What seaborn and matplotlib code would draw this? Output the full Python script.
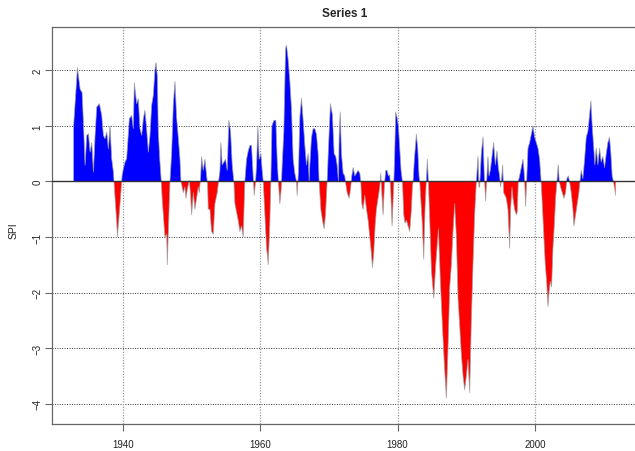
import numpy as np
import matplotlib
matplotlib.use("Agg")
import matplotlib.pyplot as plt
import seaborn as sns

# SPI values (decimal year, index value)
years = [
    1932.80, 1933.36, 1933.75, 1934.04, 1934.23, 1934.47, 1934.72, 1934.96, 1935.20, 1935.44,
    1935.69, 1935.93, 1936.17, 1936.56, 1936.90, 1937.14, 1937.38, 1937.63, 1937.87, 1938.11,
    1938.35, 1938.60, 1938.84, 1939.08, 1939.18, 1939.47, 1939.66, 1939.86, 1940.05, 1940.29,
    1940.53, 1940.92, 1941.26, 1941.50, 1941.65, 1941.99, 1942.23, 1942.47, 1942.72, 1942.96,
    1943.20, 1943.44, 1943.69, 1943.93, 1944.17, 1944.41, 1944.66, 1944.80, 1945.00, 1945.14,
    1945.38, 1945.55, 1945.70, 1945.87, 1946.11, 1946.36, 1946.45, 1946.60, 1946.84, 1947.08,
    1947.33, 1947.57, 1947.81, 1948.05, 1948.30, 1948.44, 1948.54, 1948.78, 1949.02, 1949.17,
    1949.36, 1949.65, 1949.85, 1950.00, 1950.24, 1950.48, 1950.72, 1950.96, 1951.10, 1951.30,
    1951.45, 1951.69, 1951.93, 1952.18, 1952.32, 1952.42, 1952.66, 1952.90, 1953.15, 1953.39,
    1953.73, 1953.92, 1954.12, 1954.26, 1954.45, 1954.70, 1954.94, 1955.18, 1955.42, 1955.67,
    1955.91, 1956.15, 1956.30, 1956.54, 1956.78, 1957.03, 1957.27, 1957.51, 1957.75, 1958.00,
    1958.24, 1958.48, 1958.72, 1958.96, 1959.12, 1959.31, 1959.46, 1959.65, 1959.84, 1960.09,
    1960.28, 1960.43, 1960.67, 1960.91, 1961.06, 1961.15, 1961.40, 1961.54, 1961.69, 1961.98,
    1962.27, 1962.46, 1962.66, 1962.85, 1963.04, 1963.19, 1963.43, 1963.68, 1963.82, 1964.06,
    1964.31, 1964.55, 1964.79, 1965.03, 1965.28, 1965.37, 1965.57, 1965.76, 1966.00, 1966.25,
    1966.49, 1966.73, 1966.97, 1967.12, 1967.22, 1967.46, 1967.70, 1967.94, 1968.19, 1968.43,
    1968.57, 1968.82, 1969.06, 1969.30, 1969.50, 1969.74, 1969.93, 1970.22, 1970.51, 1970.76,
    1971.00, 1971.19, 1971.39, 1971.49, 1971.64, 1971.83, 1972.07, 1972.31, 1972.46, 1972.65,
    1972.94, 1973.14, 1973.33, 1973.53, 1973.77, 1974.01, 1974.25, 1974.50, 1974.64, 1974.79,
    1974.98, 1975.23, 1975.47, 1975.71, 1975.95, 1976.19, 1976.34, 1976.53, 1976.73, 1976.92,
    1977.16, 1977.41, 1977.55, 1977.70, 1977.89, 1978.09, 1978.28, 1978.47, 1978.67, 1978.86,
    1979.01, 1979.20, 1979.40, 1979.54, 1979.73, 1979.93, 1980.12, 1980.32, 1980.51, 1980.71,
    1980.90, 1981.09, 1981.29, 1981.53, 1981.77, 1982.02, 1982.16, 1982.26, 1982.45, 1982.74,
    1982.94, 1983.13, 1983.23, 1983.42, 1983.62, 1983.81, 1984.00, 1984.20, 1984.34, 1984.49,
    1984.69, 1984.93, 1985.27, 1985.56, 1985.95, 1986.24, 1986.53, 1986.82, 1987.11, 1987.35,
    1987.60, 1987.84, 1988.08, 1988.32, 1988.57, 1988.81, 1989.05, 1989.29, 1989.54, 1989.78,
    1990.02, 1990.26, 1990.51, 1990.75, 1990.99, 1991.23, 1991.48, 1991.62, 1991.72, 1991.86,
    1991.96, 1992.20, 1992.45, 1992.64, 1992.83, 1992.98, 1993.17, 1993.32, 1993.51, 1993.71,
    1994.00, 1994.24, 1994.49, 1994.68, 1994.87, 1995.02, 1995.16, 1995.31, 1995.46, 1995.65,
    1995.84, 1996.08, 1996.33, 1996.47, 1996.67, 1996.81, 1997.05, 1997.30, 1997.44, 1997.59,
    1997.78, 1998.02, 1998.27, 1998.42, 1998.52, 1998.66, 1998.81, 1999.00, 1999.24, 1999.48,
    1999.73, 1999.97, 2000.21, 2000.46, 2000.70, 2000.89, 2001.04, 2001.28, 2001.52, 2001.72,
    2001.91, 2002.06, 2002.25, 2002.44, 2002.64, 2002.83, 2003.03, 2003.22, 2003.41, 2003.56,
    2003.75, 2003.99, 2004.24, 2004.48, 2004.67, 2004.87, 2005.06, 2005.30, 2005.55, 2005.69,
    2005.94, 2006.18, 2006.42, 2006.57, 2006.76, 2007.00, 2007.25, 2007.49, 2007.73, 2007.97,
    2008.17, 2008.36, 2008.56, 2008.75, 2008.94, 2009.19, 2009.43, 2009.67, 2009.91, 2010.16,
    2010.40, 2010.64, 2010.88, 2011.08, 2011.27, 2011.46, 2011.66, 2011.76,
]
spi_values = [
    1.00, 2.05, 1.66, 1.60, 1.07, 0.29, 0.83, 0.86, 0.53, 0.70,
    0.17, 0.83, 1.34, 1.40, 1.19, 0.83, 0.77, 0.89, 0.59, 1.00,
    0.41, 0.17, -0.30, -0.73, -1.00, -0.55, -0.25, 0.10, 0.23, 0.35,
    0.41, 1.13, 1.19, 0.95, 1.78, 1.40, 1.49, 0.95, 0.83, 1.13,
    1.28, 0.95, 0.53, 0.83, 1.37, 1.55, 2.02, 2.14, 1.90, 0.89,
    0.35, 0.05, -0.30, -0.60, -1.00, -0.95, -1.50, -0.90, 0.00, 0.50,
    1.40, 1.80, 1.15, 0.80, 0.40, 0.00, -0.05, -0.20, -0.10, -0.30,
    -0.15, 0.02, -0.25, -0.60, -0.20, -0.50, -0.30, -0.10, -0.20, 0.05,
    0.45, 0.20, 0.40, 0.10, -0.05, -0.50, -0.50, -0.90, -0.95, -0.40,
    -0.20, 0.00, 0.20, 0.70, 0.30, 0.35, 0.40, 0.20, 1.10, 0.90,
    0.30, 0.00, -0.40, -0.55, -0.70, -0.90, -0.80, -1.00, 0.00, 0.40,
    0.55, 0.65, 0.65, 0.10, -0.25, 0.00, 0.30, 1.00, 0.40, 0.50,
    0.20, 0.00, -0.60, -1.20, -1.35, -1.50, -0.70, 0.00, 1.00, 1.10,
    1.10, 0.40, -0.05, -0.40, -0.15, 0.30, 0.90, 2.40, 2.45, 2.20,
    1.80, 1.30, 0.40, 0.15, 0.00, -0.25, 0.20, 1.15, 1.50, 1.10,
    0.65, 0.30, 0.50, 0.00, 0.30, 0.80, 0.95, 0.95, 0.85, 0.50,
    0.00, -0.50, -0.70, -0.85, -0.60, 0.00, 0.60, 1.40, 1.20, 0.50,
    0.45, 0.30, 0.00, 0.80, 1.25, 0.50, 0.15, 0.10, -0.05, -0.20,
    -0.30, -0.15, 0.10, 0.25, 0.10, 0.15, 0.20, 0.15, 0.00, -0.40,
    -0.50, -0.25, -0.50, -0.70, -1.00, -1.30, -1.55, -1.30, -0.80, -0.50,
    -0.30, -0.10, 0.15, -0.20, -0.60, -0.05, 0.20, 0.20, 0.10, 0.12,
    -0.20, -0.80, -0.20, 0.30, 1.25, 1.15, 1.00, 0.60, 0.20, 0.00,
    -0.60, -0.75, -0.70, -0.80, -0.90, -0.50, -0.10, 0.00, 0.40, 0.85,
    0.60, 0.10, 0.00, -0.40, -0.80, -1.40, -0.50, 0.05, 0.40, 0.00,
    -0.70, -1.60, -2.10, -1.50, -0.85, -1.80, -2.60, -3.30, -3.90, -3.00,
    -1.90, -1.50, -0.90, -0.40, -1.00, -2.10, -2.60, -3.10, -3.50, -3.75,
    -3.50, -3.20, -3.80, -2.50, -1.50, -0.60, 0.00, 0.25, 0.45, -0.10,
    -0.10, 0.50, 0.80, 0.10, -0.35, 0.00, 0.45, 0.10, 0.20, 0.40,
    0.70, 0.30, 0.55, 0.25, 0.10, -0.10, 0.05, 0.30, -0.20, -0.25,
    -0.30, -0.50, -1.20, -0.50, -0.10, -0.30, -0.50, -0.60, -0.55, 0.00,
    0.10, 0.25, 0.40, 0.20, 0.00, -0.45, 0.00, 0.60, 0.70, 0.85,
    1.00, 0.80, 0.70, 0.60, 0.40, 0.05, -0.30, -0.90, -1.50, -1.80,
    -2.25, -2.00, -1.80, -1.90, -1.20, -0.80, -0.30, 0.00, 0.30, 0.00,
    -0.10, -0.20, -0.30, -0.20, 0.05, 0.10, 0.00, -0.20, -0.50, -0.80,
    -0.60, -0.40, -0.20, 0.00, 0.20, 0.05, 0.40, 0.80, 0.90, 1.20,
    1.45, 1.00, 0.65, 0.30, 0.60, 0.30, 0.60, 0.35, 0.45, 0.25,
    0.50, 0.70, 0.80, 0.50, 0.10, 0.00, -0.15, -0.25,
]
x_ticks = [1940, 1960, 1980, 2000]
y_ticks = [-4, -3, -2, -1, 0, 1, 2]
title = "Series 1"
y_label = "SPI"

sns.set_style("white")
plt.rcParams['font.family'] = ['Liberation Sans', 'DejaVu Sans']

fig = plt.figure(figsize=(6.35, 4.52), dpi=100)
# right edge of the frame falls just outside the canvas, like the reference crop
ax = fig.add_axes([0.0824, 0.0604, 0.922, 0.8776])

t = np.array(years)
v = np.array(spi_values)

# dotted reference grid behind the series
for yt in y_ticks:
    if yt != 0:
        ax.axhline(yt, color='#333333', lw=0.7, ls=(0, (1, 1.5)), zorder=1)
for xt in x_ticks:
    ax.axvline(xt, color='#9a9a9a', lw=0.9, ls=(0, (1, 1.2)), zorder=1)

ax.fill_between(t, v, 0, where=v >= 0, interpolate=True, color='#0000FF', linewidth=0, zorder=2)
ax.fill_between(t, v, 0, where=v <= 0, interpolate=True, color='#FF0000', linewidth=0, zorder=2)
sns.lineplot(x=t, y=v, ax=ax, color='#a0a0a0', linewidth=0.6, alpha=0.8,
             estimator=None, sort=False, zorder=3)
ax.axhline(0, color='#333333', lw=1.0, zorder=4)

ax.set_xlim(1929.7, 2015.0)
ax.set_ylim(-4.36, 2.78)
ax.set_xticks(x_ticks)
ax.set_yticks(y_ticks)
ax.tick_params(axis='both', direction='out', length=5, width=0.8, color='#666666',
               labelsize=7, labelcolor='#222222')
ax.tick_params(axis='x', pad=6, bottom=True)
ax.tick_params(axis='y', pad=2, left=True, labelrotation=90)
for lab in ax.get_yticklabels():
    lab.set_va('center')

ax.set_xlabel("")
ax.set_ylabel(y_label, fontsize=7.5, color='#222222')
ax.yaxis.set_label_coords(-0.057, 0.49)
ax.set_title(title, fontsize=8.5, fontweight='bold', pad=8)

for s in ax.spines.values():
    s.set_color('#666666')
    s.set_linewidth(0.9)

fig.savefig("out.png", dpi=100, facecolor='white')
